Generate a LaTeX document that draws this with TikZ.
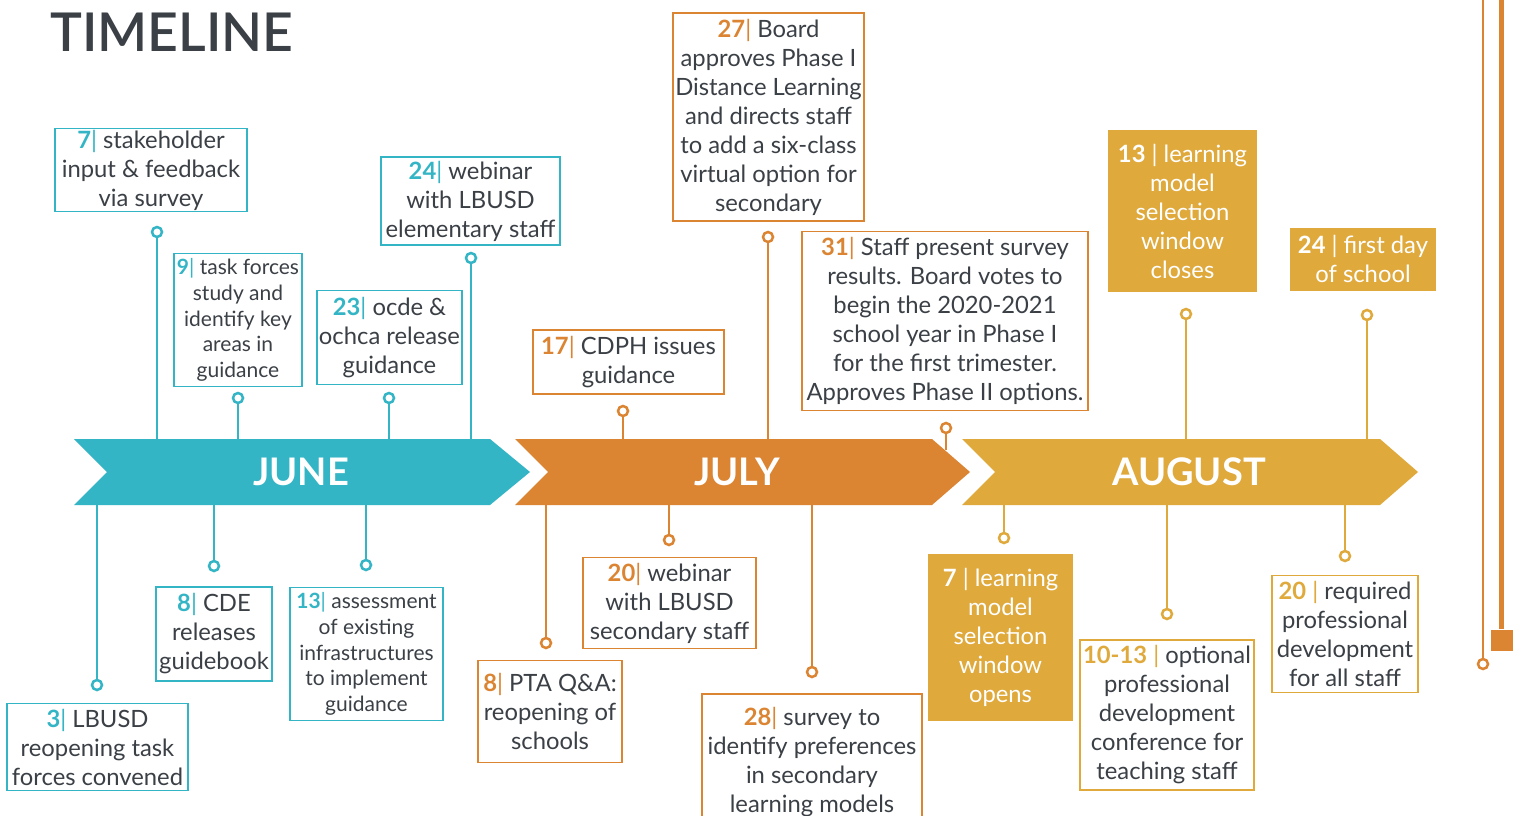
\documentclass[tikz,border=0pt]{standalone}
\usepackage{fontspec}
\setmainfont{Lato}
\newfontfamily\latosb{Lato Semibold}

\definecolor{jun}{RGB}{51,181,197}
\definecolor{jul}{RGB}{219,132,50}
\definecolor{aug}{RGB}{223,169,60}
\definecolor{ink}{RGB}{59,64,70}

\newcommand{\dy}[2]{\textcolor{#1}{\textbf{#2}|}}
\newcommand{\evtfont}{\fontsize{23.8}{29}\selectfont}
\newcommand{\evtsmall}{\fontsize{21}{25.6}\selectfont}

\tikzset{
  evt/.style 2 args={draw, line width=1.3pt, minimum width=#1, minimum height=#2, align=center, inner sep=1pt, text=ink, font=\evtfont},
  goldevt/.style 2 args={fill=aug, minimum width=#1, minimum height=#2, align=center, inner sep=1pt, text=white, font=\evtfont},
  pin/.style={circle, draw, line width=2.5pt, fill=white, minimum size=10pt, inner sep=0pt},
  stem/.style={line width=2.5pt},
  month/.style={text=white, font=\bfseries\fontsize{38}{40}\selectfont, minimum height=66, minimum width=380},
}

\begin{document}
\begin{tikzpicture}[x=1pt,y=1pt,yscale=-1,xscale=1]
\useasboundingbox (0,0) rectangle (1523,816);
\fill[white] (0,0) rectangle (1523,816);
\clip (0,0) rectangle (1523,816);

% Text Node
\node[anchor=base west, text=ink, font=\latosb\fontsize{53.5}{60}\selectfont, inner sep=0pt] (title) at (50,52) {TIMELINE};

%Shape: Banners
\fill[jun] (74,439) -- (490,439) -- (530,472) -- (490,505) -- (74,505) -- (107,472) -- cycle;
\fill[jul] (515,439) -- (932,439) -- (970,472) -- (932,505) -- (515,505) -- (548,472) -- cycle;
\fill[aug] (962,439) -- (1380,439) -- (1418,472) -- (1380,505) -- (962,505) -- (995,472) -- cycle;
\node[month] (june) at (301,472) {JUNE};
\node[month] (july) at (737,472) {JULY};
\node[month] (august) at (1189,472) {AUGUST};

%% June
\node[evt={192}{83}, draw=jun] (jn7) at (151,170) {\dy{jun}{7} stakeholder\\input \& feedback\\via survey};
\node[evt={128}{133}, draw=jun, font=\evtsmall] (jn9) at (238,320) {\dy{jun}{9} task forces\\study and\\identify key\\areas in\\guidance};
\node[evt={145}{94}, draw=jun] (jn23) at (389.5,337.5) {\dy{jun}{23} ocde \&\\ochca release\\guidance};
\node[evt={179}{88}, draw=jun] (jn24) at (470.5,201) {\dy{jun}{24} webinar\\with LBUSD\\elementary staff};
\node[evt={181}{87}, draw=jun] (jn3) at (97.5,747) {\dy{jun}{3} LBUSD\\reopening task\\forces convened};
\node[evt={116}{94}, draw=jun] (jn8) at (214,634) {\dy{jun}{8} CDE\\releases\\guidebook};
\node[evt={153}{133}, draw=jun, font=\evtsmall] (jn13) at (366.5,654) {\dy{jun}{13} assessment\\of existing\\infrastructures\\to implement\\guidance};

\node[pin, draw=jun] (pjn7) at (157,232) {};
\node[pin, draw=jun] (pjn9) at (238,398) {};
\node[pin, draw=jun] (pjn23) at (389,398) {};
\node[pin, draw=jun] (pjn24) at (471,258) {};
\node[pin, draw=jun] (pjn3) at (97,685) {};
\node[pin, draw=jun] (pjn8) at (214,566) {};
\node[pin, draw=jun] (pjn13) at (366,565) {};

%Straight Lines
\draw[stem, jun] (pjn7) -- (pjn7 |- june.north);
\draw[stem, jun] (pjn9) -- (pjn9 |- june.north);
\draw[stem, jun] (pjn23) -- (pjn23 |- june.north);
\draw[stem, jun] (pjn24) -- (pjn24 |- june.north);
\draw[stem, jun] (pjn3) -- (pjn3 |- june.south);
\draw[stem, jun] (pjn8) -- (pjn8 |- june.south);
\draw[stem, jun] (pjn13) -- (pjn13 |- june.south);

%% July
\node[evt={191}{64}, draw=jul] (jl17) at (628.5,362) {\dy{jul}{17} CDPH issues\\guidance};
\node[evt={191}{208}, draw=jul] (jl27) at (768.5,117) {\dy{jul}{27} Board\\approves Phase I\\Distance Learning\\and directs staff\\to add a six-class\\virtual option for\\secondary};
\node[evt={286}{179}, draw=jul] (jl31) at (945,321) {\dy{jul}{31} Staff present survey\\results. Board votes to\\begin the 2020-2021\\school year in Phase I\\for the first trimester.\\Approves Phase II options.};
\node[evt={144}{102}, draw=jul] (jl8) at (550,711.5) {\dy{jul}{8} PTA Q\&A:\\reopening of\\schools};
\node[evt={173}{91}, draw=jul] (jl20) at (669.5,603) {\dy{jul}{20} webinar\\with LBUSD\\secondary staff};
\node[evt={220}{136}, draw=jul] (jl28) at (812,762) {\dy{jul}{28} survey to\\identify preferences\\in secondary\\learning models};

\node[pin, draw=jul] (pjl17) at (623,411) {};
\node[pin, draw=jul] (pjl27) at (768,237) {};
\node[pin, draw=jul] (pjl31) at (946,428) {};
\node[pin, draw=jul] (pjl8) at (546,643) {};
\node[pin, draw=jul] (pjl20) at (669,540) {};
\node[pin, draw=jul] (pjl28) at (812,672) {};
\coordinate (ejl31) at (946,450);

%Straight Lines
\draw[stem, jul] (pjl17) -- (pjl17 |- july.north);
\draw[stem, jul] (pjl27) -- (pjl27 |- july.north);
\draw[stem, jul] (pjl31) -- (ejl31);
\draw[stem, jul] (pjl8) -- (pjl8 |- july.south);
\draw[stem, jul] (pjl20) -- (pjl20 |- july.south);
\draw[stem, jul] (pjl28) -- (pjl28 |- july.south);

%% August
\node[goldevt={149}{162}] (ag13) at (1182.5,211) {\textbf{13} | learning\\model\\selection\\window\\closes};
\node[goldevt={146}{63}] (ag24) at (1363,259) {\textbf{24} | first day\\of school};
\node[goldevt={145}{167}] (ag7) at (1000.5,637) {\textbf{7} | learning\\model\\selection\\window\\opens};
\node[evt={174}{150}, draw=aug] (ag1013) at (1167,715) {\textcolor{aug}{\textbf{10-13} |} optional\\professional\\development\\conference for\\teaching staff};
\node[evt={146}{117}, draw=aug] (ag20) at (1345,634) {\textcolor{aug}{\textbf{20} |} required\\professional\\development\\for all staff};

\node[pin, draw=aug] (pag13) at (1186,314) {};
\node[pin, draw=aug] (pag24) at (1367,315) {};
\node[pin, draw=aug] (pag7) at (1004,538) {};
\node[pin, draw=aug] (pag1013) at (1167,614) {};
\node[pin, draw=aug] (pag20) at (1345,556) {};

%Straight Lines
\draw[stem, aug] (pag13) -- (pag13 |- august.north);
\draw[stem, aug] (pag24) -- (pag24 |- august.north);
\draw[stem, aug] (pag7) -- (pag7 |- august.south);
\draw[stem, aug] (pag1013) -- (pag1013 |- august.south);
\draw[stem, aug] (pag20) -- (pag20 |- august.south);

%% Right edge
\coordinate (rtop) at (1483,0);
\coordinate (stop) at (1501,0);
\node[pin, draw=jul] (rpin) at (1483,664) {};
\node[fill=jul, minimum width=22, minimum height=21, inner sep=0pt] (rsq) at (1502,640) {};
\draw[stem, jul] (rtop) -- (rpin);
\draw[jul, line width=5pt] (stop) -- (stop |- rsq.north);

\end{tikzpicture}
\end{document}
